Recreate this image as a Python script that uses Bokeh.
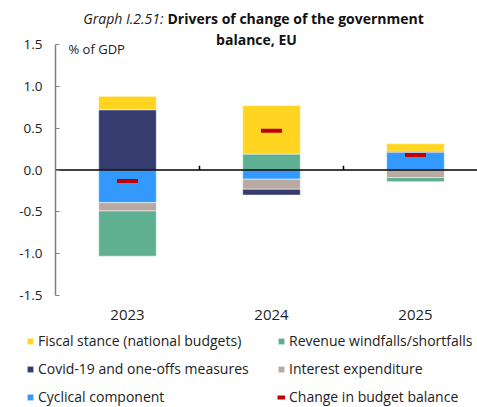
from bokeh.plotting import figure
from bokeh.models import (Range1d, FixedTicker, NumeralTickFormatter, Label,
                          Legend, LegendItem, ColumnDataSource, LinearAxis)
from bokeh.embed import file_html
from bokeh.resources import INLINE

# ---------------- data ----------------
years = ["2023", "2024", "2025"]
fiscal_stance = [0.16, 0.58, 0.09]
covid_oneoffs = [0.72, -0.07, 0.015]
cyclical = [-0.39, -0.11, 0.21]
interest = [-0.10, -0.12, -0.09]
revenue = [-0.54, 0.19, -0.05]
change_balance = [-0.13, 0.47, 0.18]
y_ticks = [-1.5, -1.0, -0.5, 0.0, 0.5, 1.0, 1.5]

# stacking order (bottom-most first)
series = [
    ("Cyclical component", cyclical, "#3399FF"),
    ("Interest expenditure", interest, "#B8AAA2"),
    ("Revenue windfalls/shortfalls", revenue, "#5FAF93"),
    ("Covid-19 and one-offs measures", covid_oneoffs, "#363C70"),
    ("Fiscal stance (national budgets)", fiscal_stance, "#FFD521"),
]
RED = "#C00000"
FONT = "Open Sans"

n = len(years)
xs = [i + 0.5 for i in range(n)]

# whole canvas is the frame. plot area: x 55..477 (144 px per category),
# y: 1.5 at 44 px, -1.5 at 295 px
W, H = 477, 407
cat_px = 144.0
unit_px = 251 / 3.0
x0_px, ytop_px, ybot_px = 55, 44, 295
x_range = Range1d(-x0_px / cat_px, (W - x0_px) / cat_px)
y_range = Range1d(y_ticks[0] - (H - ybot_px) / unit_px, y_ticks[-1] + ytop_px / unit_px)

p = figure(width=W, height=H, output_backend="svg", toolbar_location=None,
           x_range=x_range, y_range=y_range,
           x_axis_location=None, y_axis_location=None,
           min_border=0, title=None)
p.outline_line_color = None
p.grid.visible = False
p.background_fill_color = "white"
p.border_fill_color = "white"

renderers = {}
pos = [0.0] * n
neg = [0.0] * n
for name, vals, color in series:
    bottoms, tops = [], []
    for i, v in enumerate(vals):
        if v >= 0:
            bottoms.append(pos[i]); tops.append(pos[i] + v); pos[i] += v
        else:
            bottoms.append(neg[i]); tops.append(neg[i] + v); neg[i] += v
    src = ColumnDataSource(dict(x=xs, bottom=bottoms, top=tops))
    r = p.vbar(x="x", bottom="bottom", top="top", width=0.4, source=src,
               fill_color=color, line_color="white", line_alpha=0.5, line_width=1)
    renderers[name] = r

# zero line (from the y axis to the right edge)
p.segment(x0=[0.0], x1=[x_range.end], y0=[0.0], y1=[0.0],
          line_color="black", line_width=1.5)

# category separator ticks on zero line
seps = [float(i) for i in range(1, n)]
p.segment(x0=seps, x1=seps, y0=[0.0] * len(seps), y1=[0.05] * len(seps),
          line_color="black", line_width=1.5)

# change in budget balance markers
half = 0.073
chg_src = ColumnDataSource(dict(x0=[x - half for x in xs], x1=[x + half for x in xs],
                                y=change_balance))
r_chg = p.segment(x0="x0", x1="x1", y0="y", y1="y", source=chg_src,
                  line_color=RED, line_width=4)

# y axis, fixed at x = 0
yax = LinearAxis(fixed_location=0)
yax.ticker = FixedTicker(ticks=y_ticks)
yax.bounds = (y_ticks[0], y_ticks[-1])
yax.formatter = NumeralTickFormatter(format="0.0")
yax.axis_line_color = "#808080"
yax.axis_line_width = 1.5
yax.major_tick_line_color = "#808080"
yax.major_tick_in = 4
yax.major_tick_out = 0
yax.minor_tick_line_color = None
yax.major_label_standoff = 13
yax.major_label_text_font = FONT
yax.major_label_text_font_size = "13.5px"
yax.major_label_text_color = "#222222"
p.add_layout(yax, "left")

# x axis (category labels), fixed at y = -1.5
xax = LinearAxis(fixed_location=y_ticks[0])
xax.ticker = FixedTicker(ticks=xs)
xax.major_label_overrides = {x: y for x, y in zip(xs, years)}
xax.axis_line_color = None
xax.major_tick_line_color = None
xax.minor_tick_line_color = None
xax.major_label_standoff = 8
xax.major_label_text_font = FONT
xax.major_label_text_font_size = "15px"
xax.major_label_text_color = "#222222"
p.add_layout(xax, "below")

# unit label
p.add_layout(Label(x=68, y=H - 48, x_units="screen", y_units="screen", text="% of GDP",
                   text_font=FONT, text_font_size="13px", text_baseline="middle",
                   text_color="#222222"))

# title
p.add_layout(Label(x=163, y=H - 18, x_units="screen", y_units="screen", text="Graph I.2.51:",
                   text_font=FONT, text_font_size="14px", text_font_style="italic",
                   text_align="right", text_baseline="middle", text_color="#222222"))
p.add_layout(Label(x=167, y=H - 18, x_units="screen", y_units="screen",
                   text="Drivers of change of the government",
                   text_font=FONT, text_font_size="14px", text_font_style="bold",
                   text_align="left", text_baseline="middle", text_color="#111111"))
p.add_layout(Label(x=256, y=H - 39, x_units="screen", y_units="screen",
                   text="balance, EU",
                   text_font=FONT, text_font_size="14px", text_font_style="bold",
                   text_align="center", text_baseline="middle", text_color="#111111"))

# legend (2 columns x 3 rows)
items = [LegendItem(label=n_, renderers=[renderers[n_]]) for n_ in
         ["Fiscal stance (national budgets)", "Covid-19 and one-offs measures",
          "Cyclical component", "Revenue windfalls/shortfalls", "Interest expenditure"]]
items.append(LegendItem(label="Change in budget balance", renderers=[r_chg]))

legend = Legend(items=items, location=(26, 1), orientation="vertical", ncols=2,
                padding=0, margin=0, spacing=9, label_height=17, label_width=230,
                glyph_width=8, glyph_height=8, label_standoff=4,
                label_text_font=FONT, label_text_font_size="14px",
                label_text_color="#222222", border_line_color=None,
                background_fill_alpha=0)
p.add_layout(legend)

open("out.html", "w").write(file_html(p, INLINE))
